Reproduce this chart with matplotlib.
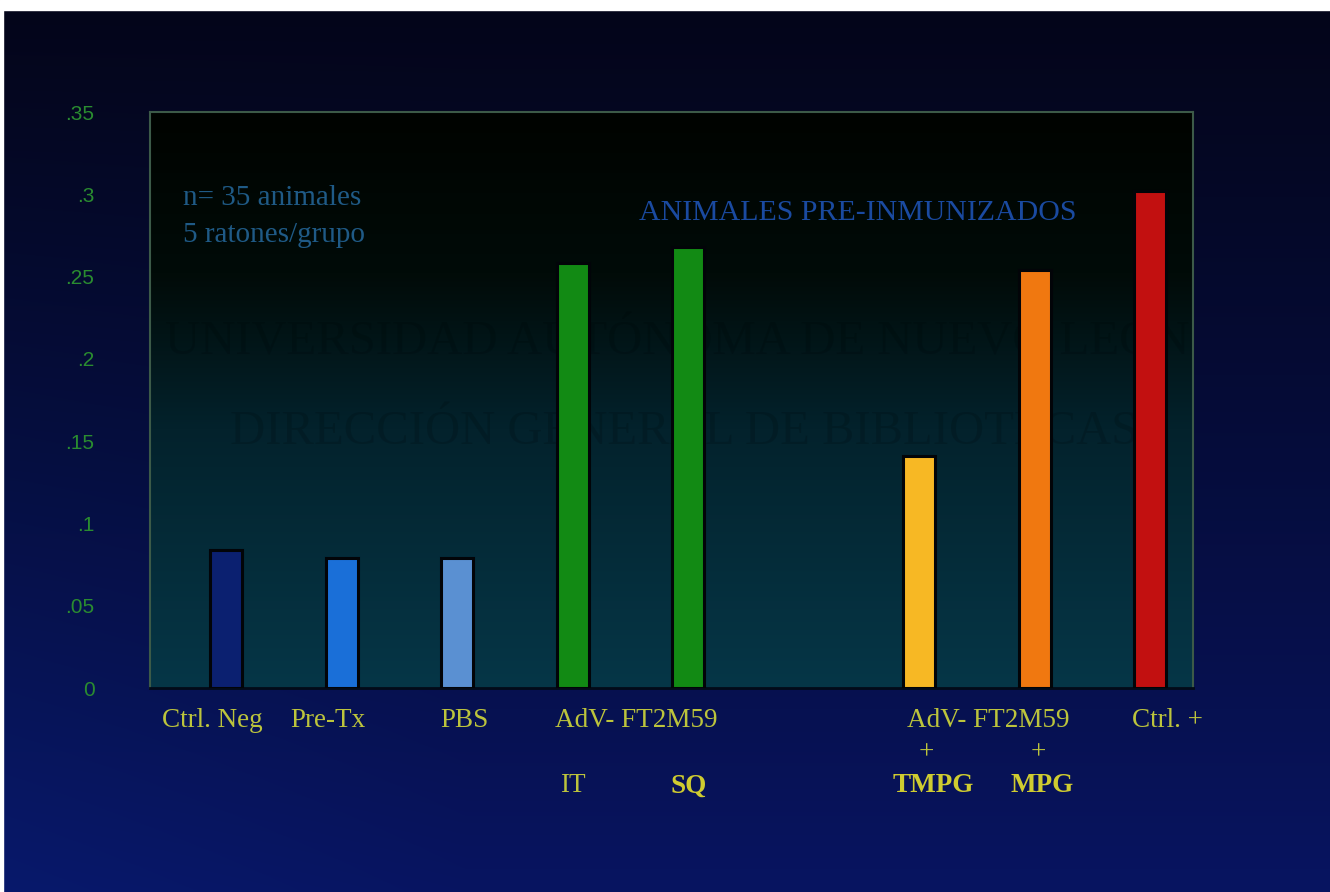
import numpy as np
import matplotlib
matplotlib.use("Agg")
import matplotlib.pyplot as plt
from matplotlib.colors import LinearSegmentedColormap
from matplotlib.transforms import blended_transform_factory

# Data
groups = ["Ctrl. Neg", "Pre-Tx", "PBS", "AdV IT", "AdV SQ", "", "AdV TMPG", "AdV MPG", "Ctrl. +"]
values = [0.084, 0.079, 0.079, 0.258, 0.268, None, 0.141, 0.254, 0.302]
bar_colors = ["#0b2070", "#1a6fd8", "#5a90d2", "#128a14", "#128a14", None,
              "#f7b824", "#f07810", "#c21010"]
yticks = [0, 0.05, 0.1, 0.15, 0.2, 0.25, 0.3, 0.35]
ytick_labels = ["0", ".05", ".1", ".15", ".2", ".25", ".3", ".35"]

row1 = [("Ctrl. Neg", -0.12), ("Pre-Tx", 0.88), ("PBS", 2.06), ("AdV- FT2M59", 3.55),
        ("AdV- FT2M59", 6.6), ("Ctrl. +", 8.15)]
row2 = [("+", 6.06), ("+", 7.03)]
row3 = [("IT", 3.0, "normal"), ("SQ", 4.0, "bold"), ("TMPG", 6.12, "bold"), ("MPG", 7.06, "bold")]

W, H = 1330, 892
fig = plt.figure(figsize=(W / 100, H / 100), dpi=100)

# Slide background: dark navy gradient, lighter blue toward the bottom-left
bg = fig.add_axes([0, 0, 1, 1], zorder=-10)
yy, xx = np.mgrid[0:1:300j, 0:1:400j]
top = np.array([0.015, 0.02, 0.10])
bot = np.array([0.03, 0.08, 0.38])
t = yy ** 1.1
img = top[None, None, :] * (1 - t[..., None]) + bot[None, None, :] * t[..., None]
left_boost = np.clip(1 - xx / 0.35, 0, 1) * t * 0.35
img[..., 1] += left_boost * 0.05
img[..., 2] += left_boost * 0.12
bg.imshow(np.clip(img, 0, 1), extent=[0, 1, 1, 0], aspect="auto", interpolation="bilinear")
bg.set_xlim(0, 1)
bg.set_ylim(1, 0)
bg.axis("off")
# white strip along the top and left edges of the scan
bg.add_patch(plt.Rectangle((0, 0), 1, 10 / H, color="white", zorder=5))
bg.add_patch(plt.Rectangle((0, 0), 3 / W, 1, color="white", zorder=5))

ax_left, ax_right = 150 / W, 1193 / W
ax_top, ax_bot = 1 - 112 / H, 1 - 688 / H
ax = fig.add_axes([ax_left, ax_bot, ax_right - ax_left, ax_top - ax_bot])

xmin, xmax = -0.66, 8.37
ymin, ymax = 0, 0.35
ax.set_xlim(xmin, xmax)
ax.set_ylim(ymin, ymax)

# Plot-area gradient: near black at the top fading to dark teal at the bottom
cmap = LinearSegmentedColormap.from_list(
    "plotbg", [(0, "#063647"), (0.45, "#03222c"), (0.72, "#010b08"), (1, "#000300")])
grad = np.linspace(0, 1, 256)[:, None]
ax.imshow(grad, extent=[xmin, xmax, ymin, ymax], origin="lower", aspect="auto",
          cmap=cmap, zorder=0, interpolation="bilinear")

# Faint watermark lettering
ax.text(0.505, 0.6, "UNIVERSIDAD AUTÓNOMA DE NUEVO LEÓN", transform=ax.transAxes,
        ha="center", va="center", fontsize=35, family="Liberation Serif",
        color="black", alpha=0.15, zorder=1, clip_on=True)
ax.text(0.512, 0.445, "DIRECCIÓN GENERAL DE BIBLIOTECAS", transform=ax.transAxes,
        ha="center", va="center", fontsize=35, family="Liberation Serif",
        color="black", alpha=0.15, zorder=1, clip_on=True)

for i, (v, c) in enumerate(zip(values, bar_colors)):
    if v is None:
        continue
    ax.bar(i, v, width=0.28, color=c, edgecolor="#020408", linewidth=2.2, zorder=3)

ax.set_yticks(yticks)
ax.set_yticklabels(ytick_labels, family="Liberation Sans", fontsize=15, color="#2a8c30")
ax.tick_params(axis="y", length=0, pad=40)
ax.set_xticks([])

for side in ("left", "top", "right"):
    ax.spines[side].set_color("#3c5a48")
    ax.spines[side].set_linewidth(1.5)
ax.spines["bottom"].set_color("#020a18")
ax.spines["bottom"].set_linewidth(2)

# Annotations inside the plot
ax.text(-0.37, 0.2976, "n= 35 animales", family="Liberation Serif", fontsize=21,
        color="#1f5a86", va="center", ha="left", zorder=4)
ax.text(-0.37, 0.2752, "5 ratones/grupo", family="Liberation Serif", fontsize=21,
        color="#1f5a86", va="center", ha="left", zorder=4)
ax.text(5.47, 0.2885, "ANIMALES PRE-INMUNIZADOS", family="Liberation Serif", fontsize=21.5,
        color="#1a4aa0", va="center", ha="center", zorder=4)

# Category labels beneath the axis
tr = blended_transform_factory(ax.transData, ax.transAxes)
label_color = "#bcc43c"
for txt, x in row1:
    ax.text(x, -0.056, txt, transform=tr, ha="center", va="center",
            family="Liberation Serif", fontsize=19.5, color=label_color)
for txt, x in row2:
    ax.text(x, -0.112, txt, transform=tr, ha="center", va="center",
            family="Liberation Serif", fontsize=19.5, color=label_color)
for txt, x, w in row3:
    ax.text(x, -0.17, txt, transform=tr, ha="center", va="center",
            family="Liberation Serif", fontsize=19.5,
            color="#cfcc30" if w == "bold" else label_color, fontweight=w)

fig.savefig("out.png", dpi=100)
